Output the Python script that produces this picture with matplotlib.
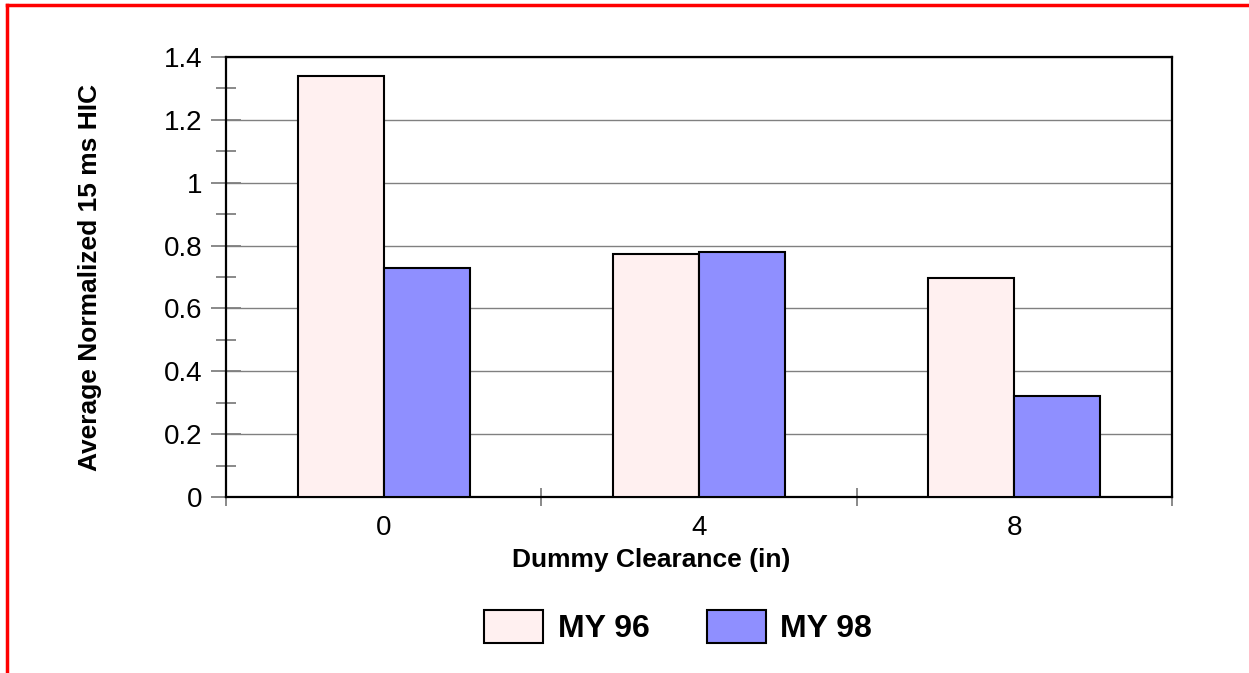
import numpy as np
import matplotlib.pyplot as plt
from matplotlib.lines import Line2D
from matplotlib.ticker import MultipleLocator, FixedLocator

plt.rcParams['font.family'] = ['Liberation Sans', 'DejaVu Sans']

# data
clearance = ['0', '4', '8']
my96 = [1.34, 0.773, 0.697]
my98 = [0.730, 0.780, 0.322]
series_names = ['MY 96', 'MY 98']

fig = plt.figure(figsize=(12.49, 6.73), dpi=100)
ax = fig.add_axes([0.181, 0.2615, 0.7574, 0.6538])

x = np.arange(len(clearance))
w = 0.273
ax.bar(x - w / 2, my96, w, color='#FFF0F0', edgecolor='black', linewidth=1.5,
       label=series_names[0], zorder=3)
ax.bar(x + w / 2, my98, w, color='#8F8FFF', edgecolor='black', linewidth=1.5,
       label=series_names[1], zorder=3)

ax.set_xlim(-0.5, len(clearance) - 0.5)
ax.set_ylim(0, 1.4)

# y axis: gray crossing ticks, gridlines at the major ones
ax.yaxis.set_major_locator(FixedLocator(np.arange(0, 1.41, 0.2)))
ax.yaxis.set_minor_locator(MultipleLocator(0.1))
ax.set_yticklabels(['0', '0.2', '0.4', '0.6', '0.8', '1', '1.2', '1.4'])
ax.tick_params(axis='y', which='major', direction='inout', length=22, width=1.3,
               color='#808080', labelsize=20, pad=6)
ax.tick_params(axis='y', which='minor', direction='inout', length=14, width=1.3,
               color='#808080')
ax.grid(axis='y', which='major', color='#808080', linewidth=1.0)
ax.set_axisbelow(True)

# x axis: labels at categories, ticks between categories
ax.set_xticks(x)
ax.set_xticklabels(clearance)
ax.xaxis.set_minor_locator(FixedLocator(np.arange(-0.5, len(clearance), 1.0)))
ax.tick_params(axis='x', which='major', length=0, labelsize=20, pad=13)
ax.tick_params(axis='x', which='minor', direction='inout', length=13, width=1.3,
               color='#808080')

for s in ax.spines.values():
    s.set_color('black')
    s.set_linewidth(1.6)

ax.set_xlabel('Dummy Clearance (in)', fontsize=19, fontweight='bold', va='top')
ax.xaxis.set_label_coords(0.449, -0.115)
ax.set_ylabel('Average Normalized 15 ms HIC', fontsize=19, fontweight='bold')
ax.yaxis.set_label_coords(-0.131, 0.5)

fig.legend(loc='center', bbox_to_anchor=(0.543, 0.068), ncol=2, frameon=False,
           prop={'weight': 'bold', 'size': 23}, handlelength=1.85,
           handleheight=1.2, handletextpad=0.45, columnspacing=1.8)

# red frame on top and left
fig.add_artist(Line2D([7 / 1249, 1], [1 - 5 / 673] * 2, transform=fig.transFigure,
                      color='red', linewidth=2.5))
fig.add_artist(Line2D([7 / 1249] * 2, [0, 1 - 5 / 673], transform=fig.transFigure,
                      color='red', linewidth=2.5))

fig.savefig('out.png', dpi=100)
